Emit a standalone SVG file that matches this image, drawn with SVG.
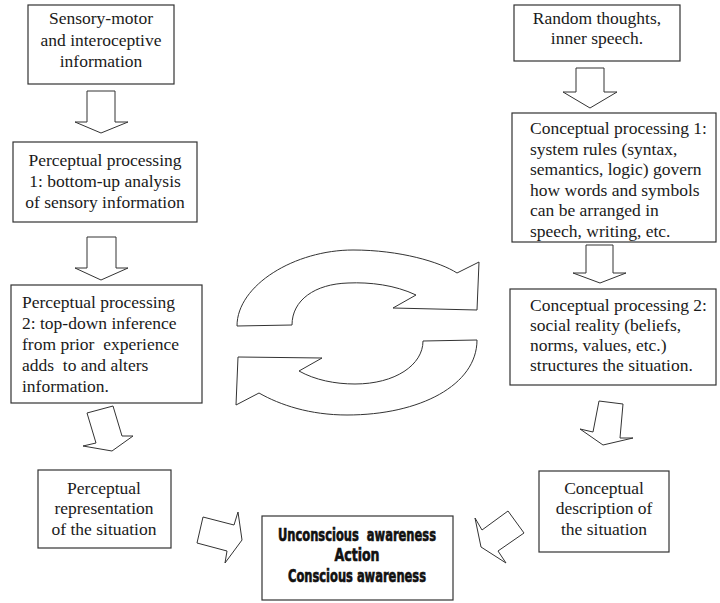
<svg xmlns="http://www.w3.org/2000/svg" width="720" height="603" viewBox="0 0 720 603">
<style>
.box{fill:#fff;stroke:#333;stroke-width:1.2}
.arr{fill:#fff;stroke:#333;stroke-width:1;stroke-linejoin:miter}
.t{font-family:"Liberation Serif","Tinos","Times New Roman","DejaVu Serif",serif;font-size:17.5px;fill:#1a1a1a}
.c{text-anchor:middle}
.b{font-family:"Liberation Sans Narrow","DejaVu Sans Condensed","Liberation Sans",sans-serif;font-weight:bold;font-size:17px;fill:#111;stroke:#111;stroke-width:0.6;text-anchor:middle}
</style>
<rect width="720" height="603" fill="#fff"/>
<g id="connectors">
<polygon class="arr" points="87,91 115,91 115,122 128,122 101,133 75,122 87,122"/>
<polygon class="arr" points="87,237 116,237 116,268 128,268 101,280 75,268 87,268"/>
<polygon class="arr" points="87,413 113,406 122,436 133,436 112,451 83,446 96,443"/>
<polygon class="arr" points="203,517 234,525 238,512 242,540 225,563 227,551 197,543"/>
<polygon class="arr" points="576,68 604,68 604,92 617,92 590,108 563,92 576,92"/>
<polygon class="arr" points="586,245 613,245 613,273 626,273 600,283 573,273 586,273"/>
<polygon class="arr" points="599,401 623,404 620,438 633,438 603,445 580,429 593,432"/>
<polygon class="arr" points="475,518 482,530 508,511 524,533 498,551 506,563 481,547"/>
<path class="arr" d="M237,326 C237,285 295,250 353,250 C400,250 440,262 457,273 L479,262 L477,310 L393,308 L416,295 C395,285 370,282 348,283 C315,284 292,300 292,325 Z"/>
<path class="arr" d="M477,340 C477,385 420,415 347,415 C310,415 280,405 259,393 L236,405 L238,357 L322,358 L299,371 C315,380 335,384 355,384 C395,384 423,365 423,341 Z"/>
</g>
<g id="n1">
<rect class="box" x="28" y="5" width="146" height="79"/>
<text class="t c" x="101" y="24">Sensory-motor</text>
<text class="t c" x="101" y="46">and interoceptive</text>
<text class="t c" x="101" y="67">information</text>
</g>
<g id="n2">
<rect class="box" x="13" y="142" width="184" height="80"/>
<text class="t c" x="105" y="166">Perceptual processing</text>
<text class="t c" x="105" y="187">1: bottom-up analysis</text>
<text class="t c" x="105" y="208">of sensory information</text>
</g>
<g id="n3">
<rect class="box" x="11" y="285" width="191" height="118"/>
<text class="t" x="22" y="308">Perceptual processing</text>
<text class="t" x="22" y="329">2: top-down inference</text>
<text class="t" x="22" y="350" style="white-space:pre">from prior  experience</text>
<text class="t" x="22" y="371" style="white-space:pre">adds  to and alters</text>
<text class="t" x="22" y="392">information.</text>
</g>
<g id="n4">
<rect class="box" x="38" y="470" width="133" height="78"/>
<text class="t c" x="104" y="494">Perceptual</text>
<text class="t c" x="104" y="514">representation</text>
<text class="t c" x="104" y="535">of the situation</text>
</g>
<g id="n5">
<rect class="box" x="514" y="5" width="166" height="56"/>
<text class="t c" x="597" y="24">Random thoughts,</text>
<text class="t c" x="597" y="44">inner speech.</text>
</g>
<g id="n6">
<rect class="box" x="512" y="113" width="204" height="129"/>
<text class="t" x="530" y="134">Conceptual processing 1:</text>
<text class="t" x="530" y="155">system rules (syntax,</text>
<text class="t" x="530" y="175">semantics, logic) govern</text>
<text class="t" x="530" y="196">how words and symbols</text>
<text class="t" x="530" y="216">can be arranged in</text>
<text class="t" x="530" y="237">speech, writing, etc.</text>
</g>
<g id="n7">
<rect class="box" x="510" y="289" width="206" height="96"/>
<text class="t" x="530" y="311">Conceptual processing 2:</text>
<text class="t" x="530" y="331">social reality (beliefs,</text>
<text class="t" x="530" y="351">norms, values, etc.)</text>
<text class="t" x="530" y="371">structures the situation.</text>
</g>
<g id="n8">
<rect class="box" x="539" y="471" width="130" height="81"/>
<text class="t c" x="604" y="494">Conceptual</text>
<text class="t c" x="604" y="514">description of</text>
<text class="t c" x="604" y="535">the situation</text>
</g>
<g id="n9">
<rect class="box" x="262" y="516" width="191" height="84"/>
<text class="b" x="357" y="541" textLength="158" lengthAdjust="spacingAndGlyphs" style="white-space:pre">Unconscious  awareness</text>
<text class="b" x="357" y="561" textLength="45" lengthAdjust="spacingAndGlyphs">Action</text>
<text class="b" x="357" y="582" textLength="138" lengthAdjust="spacingAndGlyphs">Conscious awareness</text>
</g>
</svg>
